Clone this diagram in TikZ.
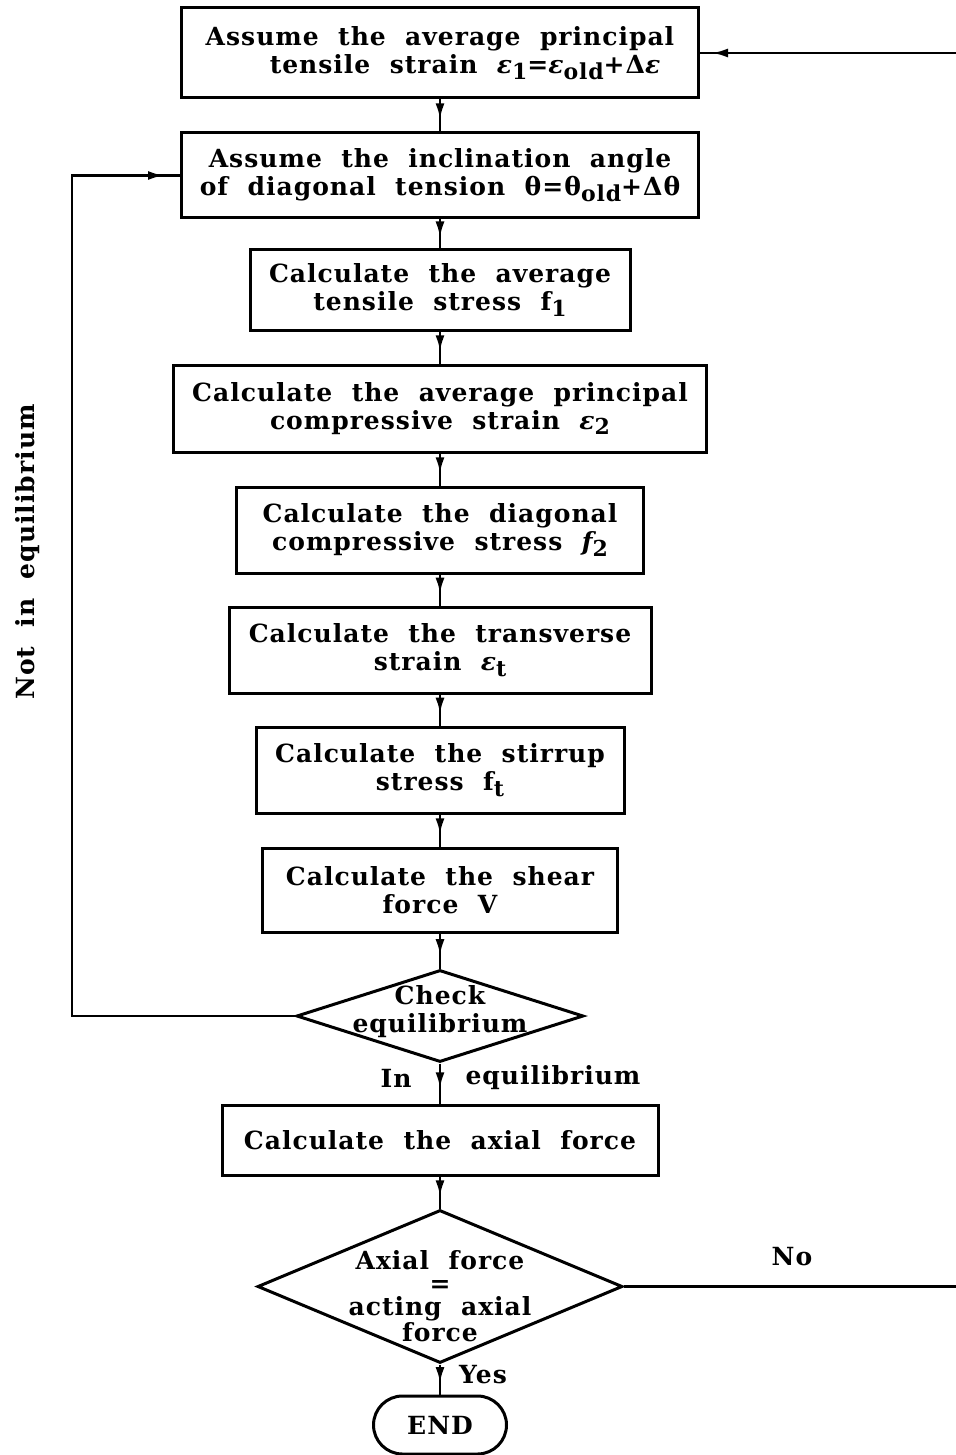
\documentclass[tikz,border=0pt]{standalone}
\usepackage{fontspec}
\setmainfont[WordSpace={2.0},LetterSpace=4]{DejaVu Serif}
\usetikzlibrary{shapes.geometric,decorations.markings,arrows.meta}
\newcommand{\lowr}[1]{\raisebox{-0.45ex}{\fontsize{22}{22}\selectfont #1}}
\tikzset{
  lbl/.style={inner sep=0pt,align=center,font=\fontsize{25}{28}\selectfont\bfseries},
  box/.style={lbl,draw,line width=3pt},
  dia/.style={draw,diamond,line width=3pt,inner sep=0pt},
  flow/.style={line width=2.6pt,postaction={decorate},
    decoration={markings,mark=at position 0.62 with {\arrow{Latex[length=16pt,width=9pt]}}}},
  loop/.style={line width=2.6pt,postaction={decorate},
    decoration={markings,mark=at position #1 with {\arrow{Latex[length=16pt,width=9pt]}}}},
}
\begin{document}
\begin{tikzpicture}[x=1pt,y=-1pt]
\useasboundingbox (0,0) rectangle (955,1455);
\node[box,minimum width=517,minimum height=90] (b1) at (440,53)
  {Assume the average principal\\ \hspace*{50pt}tensile strain {\itshape ε}\lowr{1}={\itshape ε}\lowr{old}+Δ{\itshape ε}};
\node[box,minimum width=517,minimum height=85] (b2) at (440,175.5)
  {Assume the inclination angle\\of diagonal tension θ=θ\lowr{old}+Δθ};
\node[box,minimum width=380,minimum height=80] (b3) at (440,290)
  {Calculate the average\\tensile stress f\lowr{1}};
\node[box,minimum width=533,minimum height=87] (b4) at (440,408.5)
  {Calculate the average principal\\compressive strain {\itshape ε}\lowr{2}};
\node[box,minimum width=407,minimum height=86] (b5) at (440,530)
  {Calculate the diagonal\\compressive stress {\itshape f}\lowr{2}};
\node[box,minimum width=422,minimum height=86] (b6) at (440,650)
  {Calculate the transverse\\strain {\itshape ε}\lowr{t}};
\node[box,minimum width=368,minimum height=86] (b7) at (440,770)
  {Calculate the stirrup\\stress f\lowr{t}};
\node[box,minimum width=355,minimum height=84] (b8) at (440,890)
  {Calculate the shear\\force V};
\node[dia,minimum width=287,minimum height=92] (d1) at (440,1016) {};
\node[lbl] (d1t) at (440,1012) {Check\\equilibrium};
\node[box,minimum width=436,minimum height=70] (b9) at (440,1140)
  {Calculate the axial force};
\node[dia,minimum width=365,minimum height=153] (d2) at (440,1286.5) {};
\node[lbl,font=\fontsize{25}{23}\selectfont\bfseries] (d2t) at (440,1296) {Axial force\\=\\acting axial\\force};
\node[box,rounded corners=29pt,minimum width=133,minimum height=58] (e) at (440,1425) {END};

\node[lbl] (lin) at (396,1078) {In};
\node[lbl] (leq) at (553,1078) {equilibrium};
\node[lbl] (lyes) at (483,1375) {Yes};
\node[lbl] (lno) at (792,1257) {No};
\node[lbl,rotate=90] (lnot) at (28,552) {Not in equilibrium};

\draw[flow] (b1) -- (b2);
\draw[flow] (b2) -- (b3);
\draw[flow] (b3) -- (b4);
\draw[flow] (b4) -- (b5);
\draw[flow] (b5) -- (b6);
\draw[flow] (b6) -- (b7);
\draw[flow] (b7) -- (b8);
\draw[flow] (b8) -- (d1);
\draw[flow] (d1) -- (b9);
\draw[flow] (b9) -- (d2);
\draw[flow] (d2) -- (e);

\coordinate (L1) at (72,1016);
\coordinate (L2) at (72,175.5);
\draw[loop=-16pt] (d1.west) -- (L1) -- (L2) -- (b2.west);
\coordinate (R1) at (962,1286.5);
\coordinate (R2) at (962,53);
\draw[loop=-12pt] (d2.east) -- (R1) -- (R2) -- (b1.east);
\end{tikzpicture}
\end{document}
